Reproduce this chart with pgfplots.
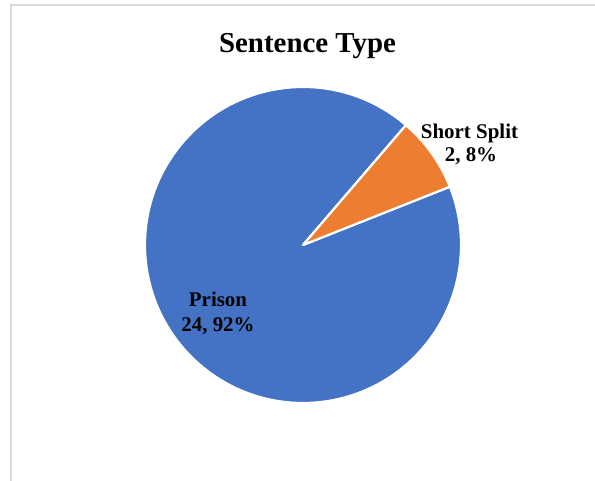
\documentclass[border=0pt]{standalone}
\usepackage{pgfplots}
\pgfplotsset{compat=1.18}
\usepackage{pgfplotstable}
\usepackage{fontspec}
\setmainfont{Liberation Serif}

\definecolor{pieblue}{HTML}{4472C4}
\definecolor{pieorange}{HTML}{ED7D31}
\definecolor{framegray}{HTML}{D9D9D9}

% sentence type counts
\pgfplotstableread[col sep=comma]{
label,count
Prison,24
Short Split,2
}\sentencedata

\begin{document}%
\pgfplotstablegetelem{0}{count}\of\sentencedata \let\nPrison\pgfplotsretval%
\pgfplotstablegetelem{1}{count}\of\sentencedata \let\nSplit\pgfplotsretval%
\pgfmathsetmacro\total{\nPrison+\nSplit}%
\pgfmathsetmacro\aStart{21.65}%
\pgfmathsetmacro\aMid{\aStart+360*\nSplit/\total}%
\pgfmathsetmacro\aEnd{\aStart+360}%
\pgfmathtruncatemacro\pPrison{round(100*\nPrison/\total)}%
\pgfmathtruncatemacro\pSplit{round(100*\nSplit/\total)}%
\begin{tikzpicture}[x=1bp,y=1bp]
\useasboundingbox (0,0) rectangle (595,481);
% chart frame (only top and left visible)
\draw[framegray, line width=2bp] (10.5,0) -- (10.5,475.5) -- (595,475.5);
\node[anchor=base, font=\bfseries\fontsize{29}{34}\selectfont] at (307.5,428) {Sentence Type};
\begin{scope}[overlay]
\begin{axis}[
  x=1bp, y=1bp,
  xmin=-303, xmax=292, ymin=-236, ymax=245,
  scale only axis, hide axis, clip=false,
  at={(0,0)}, anchor=south west]
  \filldraw[fill=pieblue, draw=white, line width=2.2bp, line join=round]
    (axis cs:0,0) -- ++(\aMid:158bp) arc[start angle=\aMid, end angle=\aEnd, radius=158bp] -- cycle;
  \filldraw[fill=pieorange, draw=white, line width=2.2bp, line join=round]
    (axis cs:0,0) -- ++(\aStart:158bp) arc[start angle=\aStart, end angle=\aMid, radius=158bp] -- cycle;
  \node[anchor=base, font=\bfseries\fontsize{21}{25}\selectfont] at (axis cs:166.5,106) {Short Split};
  \node[anchor=base, font=\bfseries\fontsize{21}{25}\selectfont] at (axis cs:168,83) {\nSplit, \pSplit\%};
  \node[anchor=base, font=\bfseries\fontsize{21}{25}\selectfont] at (axis cs:-85,-62) {Prison};
  \node[anchor=base, font=\bfseries\fontsize{21}{25}\selectfont] at (axis cs:-85,-87) {\nPrison, \pPrison\%};
\end{axis}
\end{scope}
\end{tikzpicture}%
\end{document}
